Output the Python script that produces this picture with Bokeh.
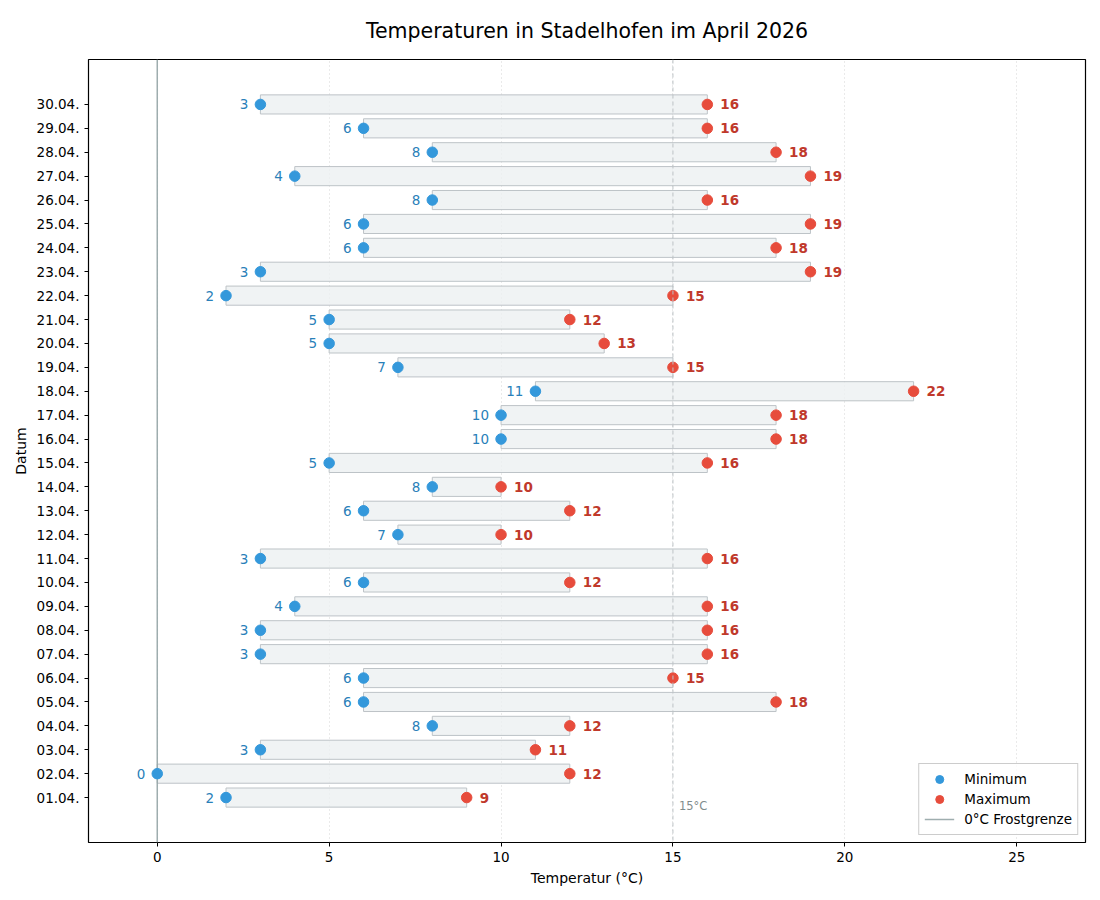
from bokeh.plotting import figure
from bokeh.models import ColumnDataSource, FixedTicker, Span, Range1d, Legend, LegendItem
from bokeh.core.properties import value
from bokeh.embed import file_html
from bokeh.resources import INLINE

dates = [f"{d:02d}.04." for d in range(1, 31)]
tmin = [2, 0, 3, 8, 6, 6, 3, 3, 4, 6, 3, 7, 6, 8, 5, 10, 10, 11, 7, 5, 5, 2, 3, 6, 6, 8, 4, 8, 6, 3]
tmax = [9, 12, 11, 12, 18, 15, 16, 16, 16, 12, 16, 10, 12, 10, 16, 18, 18, 22, 15, 13, 12, 15, 19, 18, 19, 16, 19, 18, 16, 16]
x_ticks = [0, 5, 10, 15, 20, 25]

FONT = "DejaVu Sans"
idx = list(range(len(dates)))
src = ColumnDataSource(dict(
    y=idx, tmin=tmin, tmax=tmax,
    lmin=[str(v) for v in tmin], lmax=[str(v) for v in tmax],
))

p = figure(width=1092, height=892, output_backend="svg", toolbar_location=None,
           x_range=Range1d(-2, 27), y_range=Range1d(-1.88, 30.88),
           min_border_left=88, min_border_right=7, min_border_top=59, min_border_bottom=50,
           title="Temperaturen in Stadelhofen im April 2026")
p.title.align = "center"
p.title.text_font = FONT
p.title.text_font_size = "20.5px"
p.title.text_font_style = "normal"
p.title.text_color = "black"
p.title.offset = 0
p.title.standoff = 33

p.outline_line_color = "black"
p.outline_line_width = 1.2

p.xaxis.ticker = FixedTicker(ticks=x_ticks)
p.yaxis.ticker = FixedTicker(ticks=idx)
p.yaxis.major_label_overrides = {i: d for i, d in enumerate(dates)}
for ax in (p.xaxis[0], p.yaxis[0]):
    ax.axis_line_color = None
    ax.minor_tick_line_color = None
    ax.major_tick_out = 4
    ax.major_tick_in = 0
    ax.major_tick_line_color = "black"
    ax.major_label_text_font = FONT
    ax.major_label_text_font_size = "13.5px"
    ax.major_label_text_color = "black"
    ax.axis_label_text_font = FONT
    ax.axis_label_text_font_size = "14px"
    ax.axis_label_text_font_style = "normal"
    ax.axis_label_text_color = "black"
p.xaxis.axis_label = "Temperatur (°C)"
p.yaxis.axis_label = "Datum"
p.ygrid.grid_line_color = None
p.xgrid.grid_line_color = "#cccccc"
p.xgrid.grid_line_dash = "1 3"
p.xgrid.grid_line_alpha = 0.8

# bars
p.hbar(y="y", left="tmin", right="tmax", height=0.8, source=src,
       fill_color="#ecf0f1", fill_alpha=0.8, line_color="#bdc3c7", line_width=1)

# reference lines
frost = p.segment(x0=[0], y0=[-1.88], x1=[0], y1=[30.88], line_color="#95a5a6", line_width=1.5, line_alpha=0.9)
p.add_layout(Span(location=15, dimension="height", line_color="#bdc3c7", line_dash="4 3", line_width=1))
p.text(x=[15], y=[-0.35], text=["15°C"], x_offset=6, text_font=value(FONT), text_font_size="11.5px",
       text_color="#7f8c8d", text_baseline="middle", text_align="left")

rmin = p.scatter(x="tmin", y="y", source=src, size=10.5, fill_color="#3498db", line_color="#3498db")
rmax = p.scatter(x="tmax", y="y", source=src, size=10.5, fill_color="#e74c3c", line_color="#e74c3c")

p.text(x="tmin", y="y", text="lmin", source=src, x_offset=-12, text_align="right", text_baseline="middle",
       text_font=value(FONT), text_font_size="13.5px", text_color="#2980b9")
p.text(x="tmax", y="y", text="lmax", source=src, x_offset=13, text_align="left", text_baseline="middle",
       text_font=value(FONT), text_font_size="13.5px", text_font_style="bold", text_color="#c0392b")

legend = Legend(items=[LegendItem(label="Minimum", renderers=[rmin]),
                       LegendItem(label="Maximum", renderers=[rmax]),
                       LegendItem(label="0°C Frostgrenze", renderers=[frost])],
                location="bottom_right")
legend.label_text_font = FONT
legend.label_text_font_size = "13.5px"
legend.label_text_color = "black"
legend.border_line_color = "#cccccc"
legend.border_line_alpha = 1
legend.background_fill_alpha = 0.8
legend.margin = 7
legend.padding = 5
legend.spacing = 0
legend.glyph_height = 20
legend.glyph_width = 30
legend.label_height = 20
legend.label_standoff = 10
p.add_layout(legend)

open("out.html", "w").write(file_html(p, INLINE))
